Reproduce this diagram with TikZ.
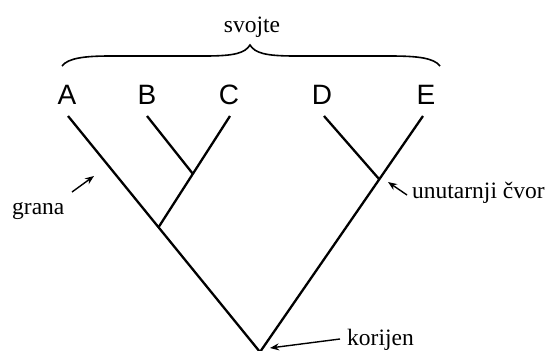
\documentclass[tikz,border=0pt]{standalone}
\usepackage{fontspec}
\setmainfont{Liberation Serif}
\newfontfamily\lettfont{Liberation Sans}
\usetikzlibrary{arrows.meta}
\begin{document}
\begin{tikzpicture}[x=1pt,y=-1pt,
  branch/.style={line width=2.3pt},
  pointer/.style={line width=1.4pt,-{Stealth[length=9pt,width=7pt]}},
  taxon/.style={inner sep=0pt,anchor=base,font=\lettfont\fontsize{28}{32}\selectfont},
  note/.style={inner sep=0pt,anchor=base west,font=\fontsize{23.5}{28}\selectfont},
  bracestyle/.style={line width=1.6pt}]
\useasboundingbox (0,0) rectangle (552,351);
% taxa labels
\node[taxon] (A) at (67,104) {A};
\node[taxon] (B) at (147,104) {B};
\node[taxon] (C) at (229,104) {C};
\node[taxon] (D) at (322,104) {D};
\node[taxon] (E) at (426,104) {E};
% branch tips
\coordinate (tA) at (68,116);
\coordinate (tB) at (147,116);
\coordinate (tC) at (230,116);
\coordinate (tD) at (324,116);
\coordinate (tE) at (423,116);
% internal nodes
\coordinate (nBC) at (193,174);
\coordinate (nABC) at (158.7,227);
\coordinate (nDE) at (379,179);
\coordinate (root) at (260,352);
% branches
\draw[branch] (tA) -- (root) -- (tE);
\draw[branch] (tC) -- (nABC);
\draw[branch] (tB) -- (nBC);
\draw[branch] (tD) -- (nDE);
% brace
\coordinate (bL) at (62,66);
\coordinate (bR) at (440,66);
\coordinate (bT) at (250,45);
\draw[bracestyle] (bL) .. controls (68,58) and (85,56) .. (110,56) -- (205,56)
  .. controls (235,56) and (245,53) .. (bT)
  .. controls (255,53) and (265,56) .. (295,56) -- (390,56)
  .. controls (418,56) and (434,58) .. (bR);
\node[note,anchor=base] (svojte) at (252,32) {svojte};
% annotations
\node[note] (grana) at (12,214) {grana};
\node[note] (unutarnji) at (412,198) {unutarnji čvor};
\node[note] (korijen) at (347,345) {korijen};
\coordinate (gTail) at (72,192);
\coordinate (gTip) at (94,176);
\coordinate (uTail) at (407,195);
\coordinate (uTip) at (388,182);
\coordinate (kTail) at (340,339);
\coordinate (kTip) at (270,348);
\draw[pointer] (gTail) -- (gTip);
\draw[pointer] (uTail) -- (uTip);
\draw[pointer] (kTail) -- (kTip);
\end{tikzpicture}
\end{document}
